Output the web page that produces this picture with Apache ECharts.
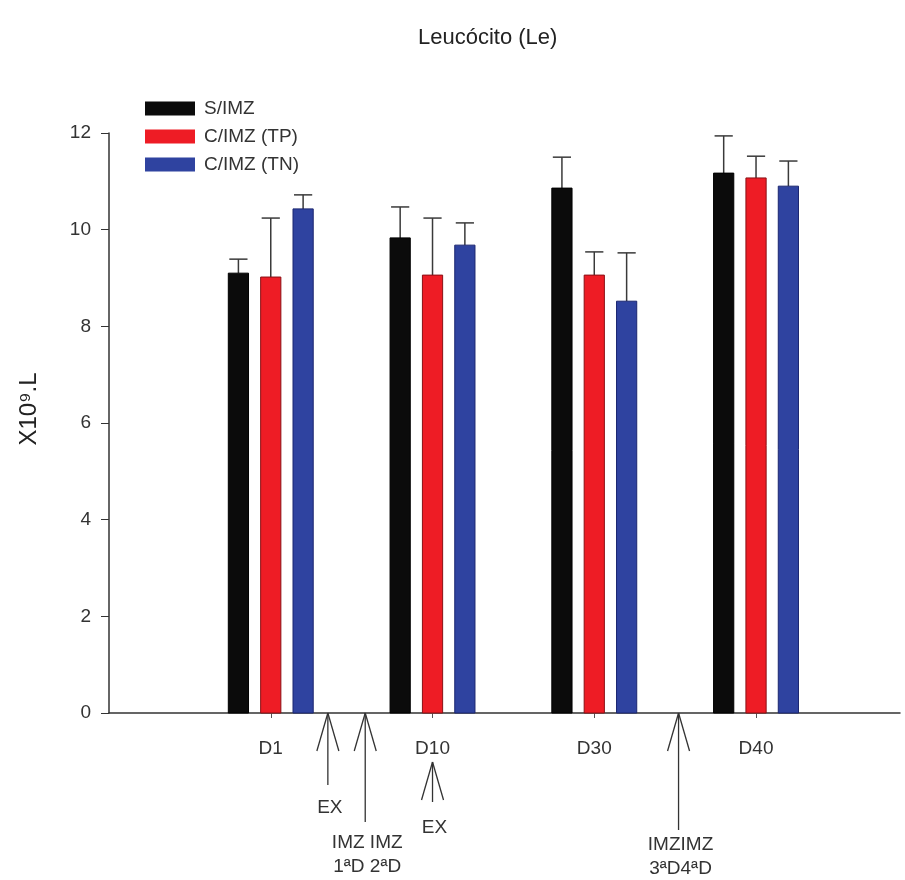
<!DOCTYPE html>
<html>
<head>
<meta charset="utf-8">
<script src="https://cdn.jsdelivr.net/npm/echarts@6/dist/echarts.min.js"></script>
<style>
  html, body { margin: 0; padding: 0; background: #fff; }
  #main { width: 905px; height: 880px; }
</style>
</head>
<body>
<div id="main"></div>
<script>
// data
var categories = ['D1', 'D10', 'D30', 'D40'];
var catPos = [1, 2, 3, 4];
var seriesNames = ['S/IMZ', 'C/IMZ (TP)', 'C/IMZ (TN)'];
var meanSIMZ = [9.10, 9.83, 10.86, 11.17];
var meanTP   = [9.02, 9.06, 9.06, 11.07];
var meanTN   = [10.43, 9.68, 8.52, 10.90];
var sdSIMZ = [0.29, 0.64, 0.64, 0.77];
var sdTP   = [1.22, 1.18, 0.48, 0.45];
var sdTN   = [0.29, 0.46, 1.00, 0.52];
var yTicks = [0, 2, 4, 6, 8, 10, 12];

// event arrows under the axis
var arrowAt = [1.353, 1.584, 2.0, 3.521];
var arrowText = ['EX', 'IMZ IMZ\n1ªD 2ªD', 'EX', 'IMZIMZ\n3ªD4ªD'];

var myChart = echarts.init(document.getElementById('main'));

var colors = ['#0b0b0b', '#ee1c25', '#2f43a0'];
var edges = ['#000000', '#8a1015', '#1b2670'];
var offsets = [-0.2, 0, 0.2];
var barW = 0.125;
var font = 'Liberation Sans, Arial, sans-serif';

function barSeries(idx, means, sds) {
    return {
        name: seriesNames[idx],
        type: 'custom',
        itemStyle: { color: colors[idx] },
        data: catPos.map(function (p, i) { return [p + offsets[idx], means[i], sds[i]]; }),
        renderItem: function (params, api) {
            var x = api.value(0), y = api.value(1), e = api.value(2);
            var p0 = api.coord([x, 0]);
            var p1 = api.coord([x, y]);
            var pe = api.coord([x, y + e]);
            var w = api.size([barW, 0])[0];
            var cap = w * 0.9;
            return {
                type: 'group',
                children: [
                    { type: 'line', shape: { x1: p1[0], y1: p1[1], x2: pe[0], y2: pe[1] },
                      style: { stroke: '#3a3a3a', lineWidth: 1.5 } },
                    { type: 'line', shape: { x1: pe[0] - cap / 2, y1: pe[1], x2: pe[0] + cap / 2, y2: pe[1] },
                      style: { stroke: '#3a3a3a', lineWidth: 1.5 } },
                    { type: 'rect', shape: { x: p1[0] - w / 2, y: p1[1], width: w, height: p0[1] - p1[1] },
                      style: { fill: colors[idx], stroke: edges[idx], lineWidth: 1 } }
                ]
            };
        }
    };
}

// arrow geometry: tip drop, shaft length, label y offset
var arrowShape = [
    { tip: 0, len: 72, lab: 95 },
    { tip: 0, len: 109, lab: 142 },
    { tip: 49, len: 40, lab: 115 },
    { tip: 0, len: 117, lab: 144 }
];

var arrowSeries = {
    type: 'custom',
    silent: true,
    data: arrowAt.map(function (v, i) { return [v, i]; }),
    renderItem: function (params, api) {
        var i = api.value(1);
        var s = arrowShape[i];
        var p = api.coord([api.value(0), 0]);
        var tx = p[0], ty = p[1] + s.tip;
        var st = { stroke: '#333', lineWidth: 1.3 };
        return {
            type: 'group',
            children: [
                { type: 'line', shape: { x1: tx, y1: ty, x2: tx, y2: ty + s.len }, style: st },
                { type: 'line', shape: { x1: tx, y1: ty, x2: tx - 11, y2: ty + 38 }, style: st },
                { type: 'line', shape: { x1: tx, y1: ty, x2: tx + 11, y2: ty + 38 }, style: st },
                { type: 'text', style: {
                    text: arrowText[i], x: tx + 2, y: p[1] + s.lab,
                    align: 'center', verticalAlign: 'middle',
                    fontSize: 19, fontFamily: font, fill: '#333', lineHeight: 24 } }
            ]
        };
    }
};

option = {
    backgroundColor: '#fff',
    animation: false,
    title: {
        text: 'Leucócito (Le)',
        left: 413,
        top: 22,
        textStyle: { fontSize: 22, fontWeight: 'normal', color: '#222', fontFamily: font }
    },
    legend: {
        orient: 'vertical',
        left: 140,
        top: 94,
        itemWidth: 50,
        itemHeight: 14,
        itemGap: 9,
        icon: 'rect',
        data: seriesNames,
        textStyle: { fontSize: 19, color: '#333', fontFamily: font, padding: [0, 0, 0, 4] }
    },
    grid: { left: 109, right: 5, top: 133, bottom: 167 },
    xAxis: {
        type: 'value',
        min: 0,
        max: 4.89,
        interval: 1,
        splitLine: { show: false },
        axisLine: { lineStyle: { color: '#333', width: 1.5 } },
        axisTick: { length: 5, customValues: catPos, lineStyle: { color: '#555' } },
        axisLabel: {
            customValues: catPos,
            margin: 26,
            fontSize: 19,
            color: '#333',
            fontFamily: font,
            formatter: function (v) { return categories[catPos.indexOf(v)] || ''; }
        }
    },
    yAxis: {
        type: 'value',
        min: yTicks[0],
        max: yTicks[yTicks.length - 1],
        interval: 2,
        name: 'X10⁹.L',
        nameLocation: 'middle',
        nameGap: 68,
        nameTextStyle: { fontSize: 24, color: '#222', fontFamily: font, padding: [0, 0, 0, 28] },
        splitLine: { show: false },
        axisLine: { show: true, lineStyle: { color: '#333', width: 1.5 } },
        axisTick: { show: true, length: 8, lineStyle: { color: '#333' } },
        axisLabel: { margin: 18, fontSize: 19, color: '#333', fontFamily: font }
    },
    series: [
        barSeries(0, meanSIMZ, sdSIMZ),
        barSeries(1, meanTP, sdTP),
        barSeries(2, meanTN, sdTN),
        arrowSeries
    ]
};
myChart.setOption(option);
</script>
</body>
</html>
